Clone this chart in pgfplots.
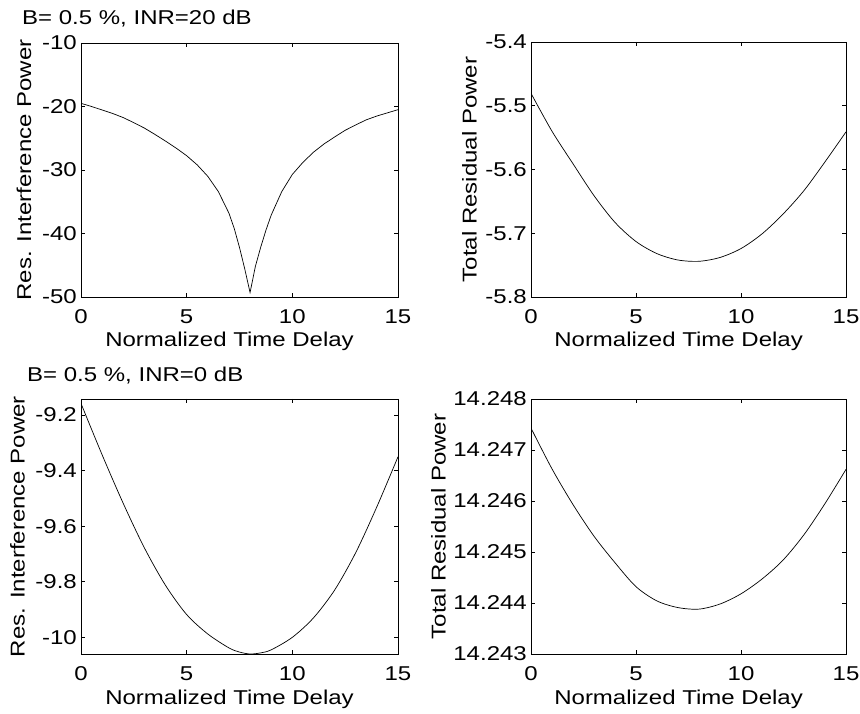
\documentclass[border=0pt]{standalone}
\usepackage{fontspec}
\setmainfont{Liberation Sans}[FakeStretch=1.2]
\usepackage{pgfplots}
\pgfplotsset{compat=1.18}
\newcommand\ff{\fontsize{20bp}{24bp}\selectfont}
\pgfplotsset{
  mstyle/.style={
    scale only axis,
    anchor=south west,
    xmin=0, xmax=15,
    xtick={0,5,10,15}, xticklabels={0,5,10,15},
    tick align=inside,
    major tick length=4bp,
    tick style={black, line width=0.6bp},
    axis line style={black, line width=0.6bp},
    tick label style={font=\ff},
    xticklabel style={anchor=center, inner sep=0pt, yshift=-19.5bp},
    yticklabel style={anchor=east, inner sep=0pt, xshift=-4bp},
    xlabel={Normalized Time Delay},
    xlabel style={font=\ff, at={(axis description cs:0.4685,0)}, anchor=base, yshift=-50bp},
  }
}
\begin{document}
\begin{tikzpicture}
\useasboundingbox (0,0) rectangle (860bp,714bp);

% Top left
\begin{axis}[mstyle,
  at={(81bp,417bp)}, width=317bp, height=254bp,
  ymin=-50, ymax=-10,
  ytick={-50,-40,-30,-20,-10}, yticklabels={-50,-40,-30,-20,-10},
  ylabel={Res. Interference Power},
  ylabel style={font=\ff, at={(axis description cs:-0.180,0.5)}, anchor=center},
]
\addplot[black, line width=0.7bp, mark=none] coordinates {
(0,-19.5) (0.5,-20.0) (1,-20.55) (1.5,-21.1) (2,-21.75) (2.5,-22.55) (3,-23.4)
(3.5,-24.4) (4,-25.45) (4.5,-26.55) (5,-27.75) (5.5,-29.2) (6,-31.0) (6.5,-33.4)
(7,-36.8) (7.25,-39.2) (7.5,-42.2) (7.75,-45.6) (8,-49.3) (8.25,-45.2)
(8.5,-42.2) (8.75,-39.5) (9,-37.1) (9.5,-33.4) (10,-30.7) (10.5,-28.8)
(11,-27.2) (11.5,-25.9) (12,-24.8) (12.5,-23.75) (13,-22.9) (13.5,-22.1)
(14,-21.5) (14.5,-21.0) (15,-20.5)
};
\end{axis}

% Top right
\begin{axis}[mstyle,
  at={(531bp,417bp)}, width=315bp, height=255bp,
  ymin=-5.8, ymax=-5.4,
  ytick={-5.8,-5.7,-5.6,-5.5,-5.4}, yticklabels={-5.8,-5.7,-5.6,-5.5,-5.4},
  ylabel={Total Residual Power},
  ylabel style={font=\ff, at={(axis description cs:-0.195,0.5)}, anchor=center},
]
\addplot[black, line width=0.7bp, mark=none, smooth] coordinates {
(0,-5.4805) (1,-5.540) (2,-5.591) (3,-5.641) (4,-5.683) (5,-5.713) (6,-5.732)
(7,-5.742) (8,-5.744) (9,-5.738) (10,-5.724) (11,-5.701) (12,-5.670)
(13,-5.633) (14,-5.588) (15,-5.541)
};
\end{axis}

% Bottom left
\begin{axis}[mstyle,
  at={(81bp,60bp)}, width=317bp, height=255bp,
  ymin=-10.06, ymax=-9.142,
  ytick={-10,-9.8,-9.6,-9.4,-9.2}, yticklabels={-10,-9.8,-9.6,-9.4,-9.2},
  ylabel={Res. Interference Power},
  ylabel style={font=\ff, at={(axis description cs:-0.200,0.5)}, anchor=center},
]
\addplot[black, line width=0.7bp, mark=none, smooth] coordinates {
(0,-9.158) (1,-9.343) (2,-9.518) (3,-9.678) (4,-9.813) (5,-9.918) (6,-9.988)
(7,-10.038) (7.5,-10.053) (8,-10.060) (8.5,-10.056) (9,-10.045) (10,-10.0)
(11,-9.93) (12,-9.83) (13,-9.695) (14,-9.53) (15,-9.35)
};
\end{axis}

% Bottom right
\begin{axis}[mstyle,
  at={(531bp,60bp)}, width=315bp, height=255bp,
  ymin=14.243, ymax=14.248,
  ytick={14.243,14.244,14.245,14.246,14.247,14.248},
  yticklabels={14.243,14.244,14.245,14.246,14.247,14.248},
  ylabel={Total Residual Power},
  ylabel style={font=\ff, at={(axis description cs:-0.294,0.5)}, anchor=center},
]
\addplot[black, line width=0.7bp, mark=none, smooth] coordinates {
(0,14.24743) (1,14.24663) (2,14.24593) (3,14.24531) (4,14.24479) (5,14.24432)
(6,14.24404) (7,14.24391) (8,14.24388) (9,14.24398) (10,14.24418)
(11,14.24447) (12,14.24484) (13,14.24534) (14,14.24595) (15,14.24662)
};
\end{axis}

\node[anchor=base west, font=\ff, inner sep=0pt] at (22bp,689bp) {B= 0.5 \%, INR=20 dB};
\node[anchor=base west, font=\ff, inner sep=0pt] at (27bp,332bp) {B= 0.5 \%, INR=0 dB};
\end{tikzpicture}
\end{document}
